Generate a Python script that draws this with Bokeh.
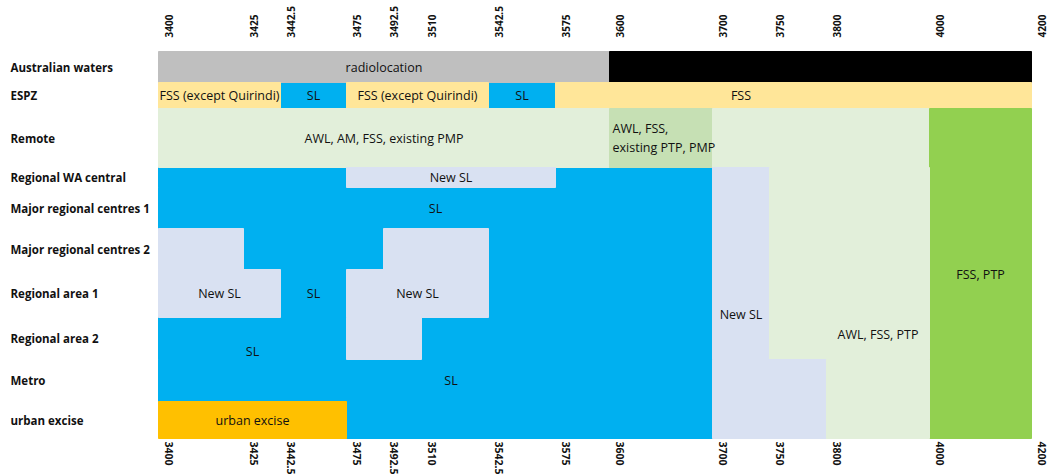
import numpy as np
from bokeh.plotting import figure
from bokeh.models import ColumnDataSource, Range1d, LinearAxis, FixedTicker
from bokeh.core.properties import value
from bokeh.embed import file_html
from bokeh.resources import INLINE

# ---------------- data ----------------
freq_ticks = [3400, 3425, 3442.5, 3475, 3492.5, 3510, 3542.5, 3575, 3600,
              3700, 3750, 3800, 4000, 4200]

rows = ["Australian waters", "ESPZ", "Remote", "Regional WA central",
        "Major regional centres 1", "Major regional centres 2",
        "Regional area 1", "Regional area 2", "Metro", "urban excise"]

# each cell: start MHz, end MHz, first row, last row (indices into rows), use
cell_start = [3400, 3600,
              3400, 3442.5, 3475, 3542.5, 3575,
              3400, 3600, 3700, 4000,
              3400, 3475, 3575, 3700, 3750,
              3400,
              3400, 3425, 3492.5, 3542.5,
              3400, 3442.5, 3475,
              3400, 3475, 3510,
              3400, 3700, 3800,
              3400, 3475]
cell_end = [3600, 4200,
            3442.5, 3475, 3542.5, 3575, 4200,
            3600, 3700, 4000, 4200,
            3475, 3575, 3700, 3750, 4000,
            3700,
            3425, 3492.5, 3542.5, 3700,
            3442.5, 3475, 3492.5,
            3475, 3510, 3700,
            3700, 3800, 4000,
            3475, 3700]
cell_first_row = [0, 0,
                  1, 1, 1, 1, 1,
                  2, 2, 2, 2,
                  3, 3, 3, 3, 3,
                  4,
                  5, 5, 5, 5,
                  6, 6, 6,
                  7, 7, 7,
                  8, 8, 8,
                  9, 9]
cell_last_row = [0, 0,
                 1, 1, 1, 1, 1,
                 2, 2, 2, 9,
                 3, 3, 3, 7, 7,
                 4,
                 5, 5, 6, 6,
                 6, 6, 6,
                 7, 7, 7,
                 8, 9, 9,
                 9, 9]
cell_use = ["radiolocation", "reserved",
            "FSS (except Quirindi)", "SL", "FSS (except Quirindi)", "SL", "FSS",
            "AWL, AM, FSS, existing PMP", "AWL, FSS, existing PTP, PMP", "AWL, FSS, PTP", "FSS, PTP",
            "SL", "New SL", "SL", "New SL", "AWL, FSS, PTP",
            "SL",
            "New SL", "SL", "New SL", "SL",
            "New SL", "SL", "New SL",
            "SL", "New SL", "SL",
            "SL", "New SL", "AWL, FSS, PTP",
            "urban excise", "SL"]

# cell texts: text, MHz span it is centred on, row position (0 = top of first row)
label_text = ["radiolocation",
              "FSS (except Quirindi)", "SL", "FSS (except Quirindi)", "SL", "FSS",
              "AWL, AM, FSS, existing PMP",
              "New SL", "SL",
              "New SL", "SL", "New SL",
              "SL", "SL", "urban excise",
              "New SL", "AWL, FSS, PTP", "FSS, PTP"]
label_lo = [3400, 3400, 3442.5, 3475, 3542.5, 3700, 3400, 3475, 3400,
            3400, 3442.5, 3475, 3400, 3475, 3400, 3700, 3800, 4000]
label_hi = [3600, 3442.5, 3475, 3542.5, 3575, 3750, 3600, 3575, 3700,
            3442.5, 3475, 3542.5, 3475, 3575, 3475, 3750, 4000, 4200]
label_row = [0.5, 1.5, 1.5, 1.5, 1.5, 1.5, 2.5, 3.5, 4.5,
             6.5, 6.5, 6.5, 7.81, 8.5, 9.5, 6.94, 7.4, 6.1]

note_text = "AWL, FSS,\nexisting PTP, PMP"
note_freq = 3600
note_row = 2.5

# ---------------- layout / style ----------------
W, H = 1048, 475
COL_EDGES = [158, 243, 280, 346, 383, 421, 488, 555, 609, 712, 769, 826, 929, 1031]
ROW_EDGES = [51, 82, 108, 167, 187, 228, 269, 317, 359, 401, 438]
TICK_SHIFT = 10
ROW_LABEL_X = 10
NOTE_PAD = 3
FONT = "Open Sans"

USE_COLOR = {
    "radiolocation": "#bfbfbf",
    "reserved": "#000000",
    "FSS (except Quirindi)": "#ffe699",
    "FSS": "#ffe699",
    "SL": "#00b0f0",
    "New SL": "#d9e1f2",
    "AWL, AM, FSS, existing PMP": "#e2efda",
    "AWL, FSS, PTP": "#e2efda",
    "AWL, FSS, existing PTP, PMP": "#c6e0b4",
    "FSS, PTP": "#92d050",
    "urban excise": "#ffc000",
}


def fx(f):
    return np.interp(f, freq_ticks, COL_EDGES)


def fy(r):
    return np.interp(r, np.arange(len(ROW_EDGES)), ROW_EDGES)


p = figure(width=W, height=H, output_backend="svg", toolbar_location=None,
           x_range=Range1d(0, W), y_range=Range1d(H, 0),
           x_axis_location=None, y_axis_location=None, min_border=0,
           outline_line_color=None, background_fill_color="white",
           border_fill_color="white")
p.grid.visible = False

# SL cells first so the other uses sit cleanly on top of them
order = sorted(range(len(cell_use)), key=lambda i: cell_use[i] != "SL")
first = np.array(cell_first_row)[order]
last = np.array(cell_last_row)[order]
cells = ColumnDataSource(dict(
    left=fx(np.array(cell_start)[order]), right=fx(np.array(cell_end)[order]),
    top=fy(first), bottom=fy(last + 1),
    color=[USE_COLOR[cell_use[i]] for i in order],
))
p.quad(left="left", right="right", top="top", bottom="bottom",
       fill_color="color", line_color="color", line_width=1, source=cells)

labels = ColumnDataSource(dict(
    x=(fx(label_lo) + fx(label_hi)) / 2, y=fy(np.array(label_row)), text=label_text,
))
p.text(x="x", y="y", text="text", source=labels, text_font=value(FONT),
       text_font_size="12.5px", text_color="#111111", text_align="center",
       text_baseline="middle")

p.text(x=[fx(note_freq) + NOTE_PAD], y=[fy(note_row)], text=[note_text],
       text_font=value(FONT), text_font_size="12.5px", text_color="#111111",
       text_align="left", text_baseline="middle", text_line_height=1.15)

# row names
row_src = ColumnDataSource(dict(
    x=[ROW_LABEL_X] * len(rows), y=fy(np.arange(len(rows)) + 0.5), text=rows,
))
p.text(x="x", y="y", text="text", source=row_src, text_font=value(FONT),
       text_font_size="11.5px", text_font_style="bold", text_color="#111111",
       text_align="left", text_baseline="middle")

# frequency axes (top and bottom)
tick_pos = [int(round(v)) + TICK_SHIFT for v in fx(freq_ticks)]
overrides = {t: f"{f:g}" for t, f in zip(tick_pos, freq_ticks)}
for side, loc, size, standoff in (("above", ROW_EDGES[0], "10px", 14),
                                  ("below", ROW_EDGES[-1], "10.5px", 3)):
    ax = LinearAxis(fixed_location=loc,
                    ticker=FixedTicker(ticks=tick_pos, minor_ticks=[]),
                    major_label_overrides=overrides,
                    major_label_orientation="vertical")
    ax.axis_line_color = None
    ax.major_tick_line_color = None
    ax.minor_tick_line_color = None
    ax.major_tick_in = 0
    ax.major_tick_out = 0
    ax.major_label_standoff = standoff
    ax.major_label_text_font = FONT
    ax.major_label_text_font_size = size
    ax.major_label_text_font_style = "bold"
    ax.major_label_text_color = "#111111"
    p.add_layout(ax, side)

open("out.html", "w").write(file_html(p, INLINE))
